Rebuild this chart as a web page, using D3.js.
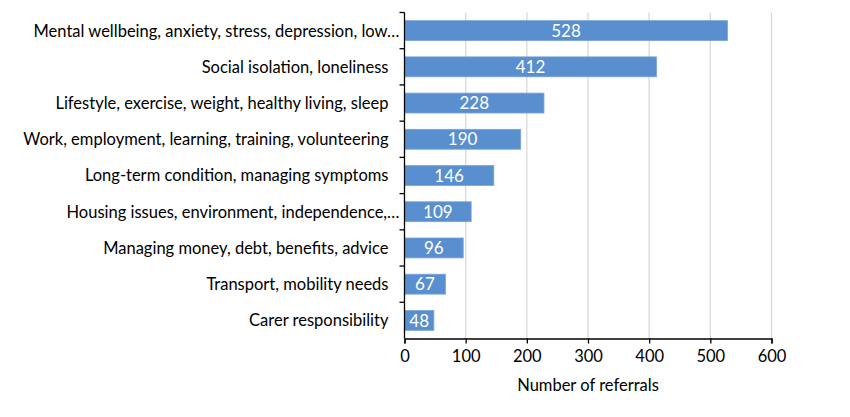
<!DOCTYPE html>
<html>
<head>
<meta charset="utf-8">
<script src="https://cdn.jsdelivr.net/npm/d3@7"></script>
<style>
  body { margin: 0; background: #fff; }
  text { font-family: Lato, "Open Sans", sans-serif; }
</style>
</head>
<body>
<svg id="chart" width="850" height="417"></svg>
<script>
// categories top to bottom, and their referral counts
const categories = [
  'Mental wellbeing, anxiety, stress, depression, low…',
  'Social isolation, loneliness',
  'Lifestyle, exercise, weight, healthy living, sleep',
  'Work, employment, learning, training, volunteering',
  'Long-term condition, managing symptoms',
  'Housing issues, environment, independence,…',
  'Managing money, debt, benefits, advice',
  'Transport, mobility needs',
  'Carer responsibility'
];
const referrals = [528, 412, 228, 190, 146, 109, 96, 67, 48];
const xTicks = [0, 100, 200, 300, 400, 500, 600];

const svg = d3.select('#chart');
const plotLeft = 404.5, plotRight = 771.5, plotTop = 12.5, plotBottom = 338.5;
const fontSize = '16.5px';

const x = d3.scaleLinear().domain([0, 600]).range([plotLeft, plotRight]);
const y = d3.scaleBand().domain(categories).range([plotTop, plotBottom]).paddingInner(0.45).paddingOuter(0.225);

// vertical gridlines
svg.append('g')
  .selectAll('line')
  .data(xTicks.slice(1))
  .enter().append('line')
    .attr('x1', d => x(d)).attr('x2', d => x(d))
    .attr('y1', plotTop).attr('y2', plotBottom)
    .attr('stroke', '#d9d9d9').attr('stroke-width', 1.3);

// bars
const data = categories.map((c, i) => ({cat: c, val: referrals[i]}));
svg.append('g')
  .selectAll('rect')
  .data(data)
  .enter().append('rect')
    .attr('x', x(0))
    .attr('y', d => y(d.cat))
    .attr('width', d => x(d.val) - x(0))
    .attr('height', y.bandwidth())
    .attr('fill', '#5a8fcf')
    .attr('stroke', '#79a4da')
    .attr('stroke-width', 0.8);

// value labels inside bars
svg.append('g')
  .selectAll('text')
  .data(data)
  .enter().append('text')
    .attr('x', d => (x(0) + x(d.val)) / 2)
    .attr('y', d => y(d.cat) + y.bandwidth() / 2)
    .attr('dy', '0.36em')
    .attr('text-anchor', 'middle')
    .attr('fill', '#fff')
    .style('font-size', '17px')
    .text(d => d.val);

// x axis
const xAxis = svg.append('g')
  .attr('transform', `translate(0,${plotBottom})`)
  .call(d3.axisBottom(x).tickValues(xTicks).tickSize(5).tickPadding(7));
xAxis.select('.domain').attr('stroke', '#000').attr('stroke-width', 1.3);
xAxis.selectAll('.tick line').attr('stroke', '#000').attr('stroke-width', 1.3);
xAxis.selectAll('.tick text').style('font-size', fontSize).attr('fill', '#000');

// y axis: line with ticks between categories
svg.append('line')
  .attr('x1', plotLeft).attr('x2', plotLeft).attr('y1', plotTop).attr('y2', plotBottom)
  .attr('stroke', '#000').attr('stroke-width', 1.3);
const step = y.step();
svg.append('g')
  .selectAll('line')
  .data(d3.range(categories.length))
  .enter().append('line')
    .attr('x1', plotLeft - 5).attr('x2', plotLeft)
    .attr('y1', i => plotTop + i * step).attr('y2', i => plotTop + i * step)
    .attr('stroke', '#000').attr('stroke-width', 1.3);

// category labels
svg.append('g')
  .selectAll('text')
  .data(categories)
  .enter().append('text')
    .attr('x', d => d.endsWith('…') ? plotLeft - 5 : plotLeft - 16)
    .attr('y', d => y(d) + y.bandwidth() / 2)
    .attr('dy', '0.36em')
    .attr('text-anchor', 'end')
    .attr('fill', '#000')
    .style('font-size', fontSize)
    .text(d => d);

// axis title
svg.append('text')
  .attr('x', (plotLeft + plotRight) / 2)
  .attr('y', 385)
  .attr('dy', '0.36em')
  .attr('text-anchor', 'middle')
  .attr('fill', '#000')
  .style('font-size', fontSize)
  .text('Number of referrals');
</script>
</body>
</html>
